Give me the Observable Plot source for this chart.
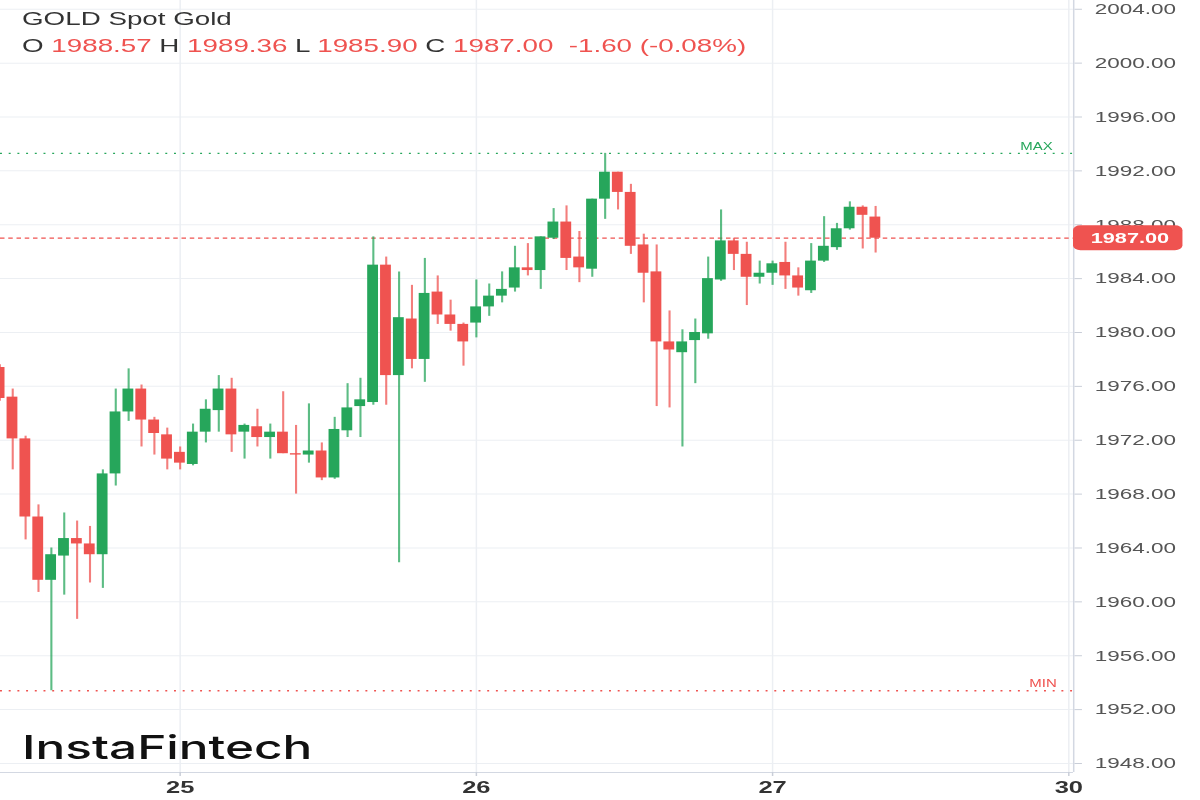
<!DOCTYPE html>
<html><head><meta charset="utf-8">
<script src="https://cdn.jsdelivr.net/npm/d3@7"></script>
<script src="https://cdn.jsdelivr.net/npm/@observablehq/plot@0.6"></script>
<style>
html,body{margin:0;padding:0;background:#fff;overflow:hidden;}
#wrap{position:relative;width:800px;height:800px;transform:scaleX(1.5);transform-origin:0 0;font-family:"Liberation Sans",Arial,sans-serif;}
#chart{position:absolute;left:0;top:0;}
#head{position:absolute;left:14.7px;top:5px;font-size:18.5px;color:#333;line-height:27px;white-space:pre;}
.v{color:#ef5350}
#logo{position:absolute;left:14.7px;top:731px;font-family:Inter,sans-serif;font-weight:500;font-size:33px;line-height:33px;color:#111;}
</style></head><body>
<div id="wrap">
<div id="chart"></div>
<div id="head"><div>GOLD Spot Gold</div><div>O <span class="v">1988.57</span> H <span class="v">1989.36</span> L <span class="v">1985.90</span> C <span class="v">1987.00  -1.60 (-0.08%)</span></div></div>
<div id="logo">InstaFintech</div>
</div>
<script>
// Hourly candles (index 0 = leftmost, partly cut off)
const opens = [1977.4,1975.2,1972.1,1966.3,1961.6,1963.4,1964.7,1964.3,1963.5,1969.5,
  1974.1,1975.8,1973.5,1972.4,1971.1,1970.2,1972.6,1974.2,1975.8,1972.6,
  1973.0,1972.2,1972.6,1971.0,1970.9,1971.2,1969.2,1972.7,1974.5,1974.8,
  1985.0,1976.8,1981.0,1978.0,1983.0,1981.3,1980.6,1980.7,1981.9,1982.7,
  1983.3,1984.8,1984.6,1987.0,1988.2,1985.6,1984.7,1989.9,1991.9,1990.4,
  1986.5,1984.5,1979.3,1978.5,1979.4,1979.9,1983.9,1986.8,1985.8,1984.1,
  1984.4,1985.2,1984.2,1983.1,1985.3,1986.3,1987.7,1989.3,1988.57];
const highs = [1977.6,1975.8,1972.3,1967.2,1964.0,1966.6,1966.0,1965.6,1969.8,1975.8,
  1977.3,1976.1,1973.7,1972.9,1971.5,1973.2,1975.0,1976.8,1976.6,1973.2,
  1974.3,1973.2,1975.6,1973.1,1974.7,1971.8,1973.7,1976.2,1976.6,1987.1,
  1985.6,1984.5,1983.5,1985.5,1984.2,1982.4,1980.7,1983.9,1983.6,1984.5,
  1986.4,1986.6,1987.1,1989.2,1989.4,1987.5,1989.9,1993.3,1991.9,1991.0,
  1987.3,1986.5,1981.6,1980.2,1981.0,1985.6,1989.1,1987.0,1986.7,1985.3,
  1985.3,1986.7,1984.8,1986.6,1988.6,1988.1,1989.7,1989.4,1989.36];
const lows = [1974.9,1969.8,1964.6,1960.7,1953.4,1960.5,1958.7,1961.4,1961.0,1968.6,
  1973.4,1971.5,1970.9,1969.8,1969.8,1970.1,1971.8,1972.6,1971.1,1970.6,
  1971.5,1970.6,1971.0,1968.0,1970.3,1969.0,1969.1,1972.2,1972.2,1974.6,
  1974.6,1962.9,1977.3,1976.3,1980.6,1980.1,1977.5,1979.6,1981.2,1982.2,
  1983.0,1984.2,1983.2,1986.9,1984.6,1983.7,1984.1,1988.4,1989.1,1985.8,
  1982.2,1974.5,1974.4,1971.5,1976.2,1979.5,1983.8,1984.6,1982.0,1983.6,
  1983.5,1983.2,1982.7,1982.9,1985.2,1986.1,1987.6,1986.2,1985.90];
const closes = [1975.1,1972.1,1966.3,1961.6,1963.5,1964.7,1964.3,1963.5,1969.5,1974.1,
  1975.8,1973.5,1972.5,1970.6,1970.3,1972.6,1974.3,1975.8,1972.4,1973.1,
  1972.2,1972.6,1971.0,1970.9,1971.2,1969.2,1972.8,1974.4,1975.0,1985.0,
  1976.8,1981.1,1978.0,1982.9,1981.3,1980.6,1979.3,1981.9,1982.7,1983.2,
  1984.8,1984.6,1987.1,1988.2,1985.5,1984.8,1989.9,1991.9,1990.4,1986.4,
  1984.4,1979.3,1978.7,1979.3,1980.0,1984.0,1986.8,1985.8,1984.1,1984.4,
  1985.1,1984.2,1983.3,1985.3,1986.4,1987.7,1989.3,1988.7,1987.00];

const dayTicks = [14, 37, 60, 83];
const dayLabels = ["25", "26", "27", "30"];
const yTicks = [1948,1952,1956,1960,1964,1968,1972,1976,1980,1984,1988,1992,1996,2000,2004];
const levelNames = ["MAX", "MIN"];
const lastPrice = 1987.00;

const GREEN = "#26a65b", RED = "#ef5350";
const candles = opens.map((o, i) => ({i, open: o, high: highs[i], low: lows[i], close: closes[i]}));
const col = d => d.close >= d.open ? GREEN : RED;
const maxLevel = d3.max(highs), minLevel = d3.min(lows);
const levels = [{name: levelNames[0], v: maxLevel, c: GREEN, x: 80.5}, {name: levelNames[1], v: minLevel, c: RED, x: 81.0}];

const chart = Plot.plot({
  width: 800, height: 800,
  marginLeft: 0, marginRight: 84.7, marginTop: 0, marginBottom: 28,
  x: {domain: [0.07, 83.38], label: null},
  y: {domain: [1947.33, 2004.65], label: null},
  color: {type: "identity"},
  style: {fontFamily: "'Liberation Sans', Arial, sans-serif", fontSize: "15px", background: "transparent", overflow: "visible"},
  marks: [
    Plot.ruleY(yTicks, {stroke: "#eceff3", strokeWidth: 1}),
    Plot.ruleX(dayTicks, {stroke: "#eceff3", strokeWidth: 1}),
    Plot.ruleY(levels, {y: "v", stroke: "c", strokeWidth: 1.3, strokeDasharray: "1.3,4.5"}),
    Plot.text(levels, {x: "x", y: "v", text: "name", fill: "c", fontSize: 10, dy: -7}),
    Plot.ruleY([lastPrice], {stroke: RED, strokeWidth: 1.2, strokeDasharray: "3,2.5"}),
    Plot.ruleX(candles, {x: "i", y1: "low", y2: "high", stroke: col, strokeWidth: 1.4, strokeOpacity: 0.75, clip: true}),
    Plot.rect(candles, {x1: d => d.i - 0.42, x2: d => d.i + 0.42, y1: "open", y2: "close", fill: col, clip: true}),
    Plot.ruleY([1947.33], {stroke: "#d3d8e2", strokeWidth: 1}),
    Plot.ruleX([83.38], {stroke: "#d3d8e2", strokeWidth: 1}),
    Plot.axisY({anchor: "right", ticks: yTicks, tickFormat: d => d.toFixed(2), tickSize: 5, tickPadding: 9, stroke: "#c9ced8", fill: "#555", label: null, fontSize: 15}),
    Plot.axisX({ticks: dayTicks, tickFormat: d => dayLabels[dayTicks.indexOf(d)], tickSize: 4, tickPadding: 4, stroke: "#c9ced8", fill: "#333", label: null, fontSize: 17, fontWeight: 600})
  ]
});
document.getElementById("chart").appendChild(chart);

// current price badge on the right axis
const ys = chart.scale("y"), xs = chart.scale("x");
const py = ys.apply(lastPrice), px = xs.range[1];
const g = d3.select(chart).append("g");
g.append("rect").attr("x", px).attr("y", py - 12.5).attr("width", 73).attr("height", 25).attr("rx", 5).attr("fill", RED);
g.append("text").attr("x", px + 38).attr("y", py).attr("dy", "0.36em").attr("text-anchor", "middle")
  .attr("fill", "#fff").attr("font-weight", "bold").attr("font-size", 14.5).text(lastPrice.toFixed(2));
</script>
</body></html>
